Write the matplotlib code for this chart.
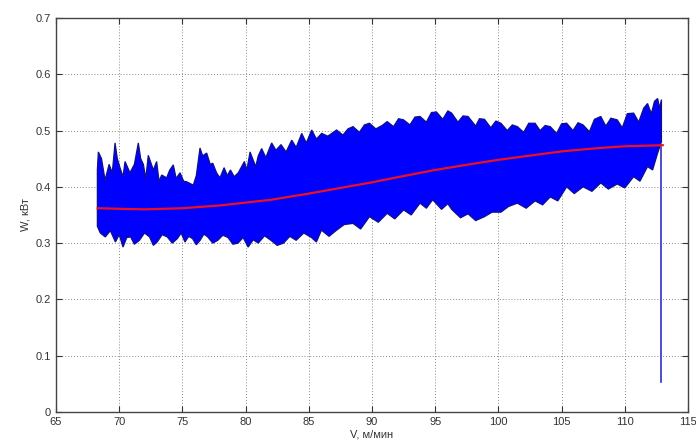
import matplotlib
matplotlib.use("Agg")
import matplotlib.pyplot as plt
import numpy as np

plt.rcParams['font.family'] = ['Liberation Sans', 'DejaVu Sans']

# upper edge of the blue signal band (V, W)
up_v = [68.27, 68.35, 68.6, 68.88, 69.2, 69.45, 69.67, 69.85, 70.06, 70.3, 70.46, 70.85,
        71.2, 71.51, 71.7, 71.91, 72.1, 72.3, 72.7, 72.96, 73.15, 73.36, 73.75, 74.0,
        74.28, 74.5, 74.81, 75.1, 75.34, 75.86, 76.1, 76.39, 76.6, 76.92, 77.2, 77.4,
        77.7, 77.97, 78.3, 78.55, 78.8, 79.1, 79.42, 79.9, 80.1, 80.35, 80.8, 81.0,
        81.27, 81.6, 82.06, 82.4, 82.8, 83.2, 83.65, 84.0, 84.44, 84.8, 85.23, 85.6,
        86.02, 86.5, 87.2, 87.7, 88.1, 88.5, 89.0, 89.4, 89.8, 90.3, 90.8, 91.2,
        91.7, 92.1, 92.5, 93.0, 93.4, 93.8, 94.3, 94.7, 95.1, 95.6, 96.0, 96.3,
        96.8, 97.2, 97.6, 98.2, 98.5, 98.9, 99.4, 99.8, 100.2, 100.7, 101.1, 101.5,
        102.0, 102.4, 102.9, 103.3, 103.7, 104.1, 104.6, 105.0, 105.4, 105.9, 106.3,
        106.7, 107.2, 107.6, 108.1, 108.5, 108.9, 109.4, 109.8, 110.2, 110.7, 111.1,
        111.5, 111.8, 112.1, 112.35, 112.6, 112.75, 112.9]
up_w = [0.43, 0.462, 0.45, 0.412, 0.44, 0.425, 0.478, 0.45, 0.434, 0.418, 0.445, 0.425,
        0.44, 0.478, 0.45, 0.44, 0.415, 0.456, 0.43, 0.445, 0.41, 0.421, 0.416, 0.43,
        0.439, 0.415, 0.425, 0.41, 0.409, 0.403, 0.42, 0.469, 0.455, 0.46, 0.44, 0.442,
        0.425, 0.416, 0.434, 0.42, 0.43, 0.418, 0.425, 0.445, 0.43, 0.462, 0.436, 0.455,
        0.468, 0.452, 0.478, 0.465, 0.475, 0.462, 0.483, 0.47, 0.495, 0.478, 0.501, 0.485,
        0.495, 0.49, 0.501, 0.492, 0.503, 0.507, 0.497, 0.51, 0.513, 0.503, 0.509, 0.516,
        0.507, 0.521, 0.519, 0.51, 0.524, 0.525, 0.515, 0.532, 0.533, 0.52, 0.535, 0.531,
        0.515, 0.526, 0.525, 0.508, 0.521, 0.52, 0.505, 0.517, 0.513, 0.5, 0.51, 0.507,
        0.497, 0.513, 0.513, 0.5, 0.509, 0.507, 0.495, 0.512, 0.513, 0.5, 0.514,
        0.51, 0.498, 0.52, 0.525, 0.508, 0.522, 0.519, 0.505, 0.53, 0.531, 0.515,
        0.54, 0.548, 0.53, 0.552, 0.557, 0.54, 0.555]

# lower edge of the blue signal band
lo_v = [68.27, 68.5, 68.9, 69.3, 69.7, 70.0, 70.3, 70.6, 70.9, 71.2, 71.6, 72.0,
        72.4, 72.7, 73.0, 73.4, 73.8, 74.2, 74.6, 74.9, 75.2, 75.5, 75.8, 76.1,
        76.4, 76.7, 77.0, 77.4, 77.8, 78.2, 78.6, 79.0, 79.4, 79.8, 80.2, 80.6,
        81.0, 81.5, 82.0, 82.5, 83.0, 83.5, 84.0, 84.6, 85.2, 85.6, 86.0, 86.6,
        87.2, 87.8, 88.5, 89.1, 89.8, 90.5, 91.2, 91.8, 92.5, 93.1, 93.8, 94.3,
        94.8, 95.5, 96.0, 96.3, 97.0, 97.6, 98.2, 98.9, 99.5, 100.2, 100.8, 101.5,
        102.2, 102.9, 103.5, 104.1, 104.7, 105.4, 106.0, 106.7, 107.4, 108.1, 108.7,
        109.4, 110.0, 110.7, 111.2, 111.8, 112.2, 112.6, 112.9]
lo_w = [0.33, 0.318, 0.311, 0.322, 0.302, 0.315, 0.293, 0.31, 0.311, 0.298, 0.305, 0.318,
        0.311, 0.296, 0.302, 0.315, 0.311, 0.3, 0.308, 0.318, 0.302, 0.312, 0.308, 0.297,
        0.305, 0.316, 0.311, 0.3, 0.305, 0.314, 0.31, 0.298, 0.30, 0.31, 0.293, 0.306,
        0.30, 0.313, 0.305, 0.296, 0.30, 0.312, 0.305, 0.318, 0.31, 0.302, 0.323, 0.312,
        0.323, 0.333, 0.335, 0.325, 0.347, 0.337, 0.353, 0.343, 0.359, 0.35, 0.371, 0.362,
        0.377, 0.36, 0.37, 0.36, 0.345, 0.352, 0.34, 0.347, 0.355, 0.355, 0.365, 0.371,
        0.362, 0.375, 0.368, 0.382, 0.375, 0.40, 0.388, 0.40, 0.392, 0.407, 0.396,
        0.405, 0.398, 0.418, 0.41, 0.436, 0.43, 0.46, 0.48]

# final drop of the signal
drop_v = [112.9, 112.9]
drop_w = [0.47, 0.054]

# red trend line
fit_v = [68.3, 70, 72, 75, 78, 80, 82, 85, 88, 90, 92, 95, 98, 100, 103, 105, 108, 110, 113]
fit_w = [0.362, 0.361, 0.360, 0.362, 0.367, 0.372, 0.377, 0.388, 0.400, 0.408, 0.417,
         0.430, 0.441, 0.448, 0.457, 0.463, 0.469, 0.472, 0.474]

fig = plt.figure(figsize=(6.96, 4.45), dpi=100)
ax = fig.add_axes([0.0805, 0.0742, 0.908, 0.8854])

ax.fill(np.r_[up_v, lo_v[::-1]], np.r_[up_w, lo_w[::-1]],
        facecolor='#0000ff', edgecolor='#10108a', lw=0.9, zorder=2)
ax.plot(drop_v, drop_w, color='#3030c0', lw=1.2, zorder=2)
ax.plot(fit_v, fit_w, color='#ee1020', lw=1.6, zorder=3)

ax.set_xlim(65, 115)
ax.set_ylim(0, 0.7)
ax.set_xticks(np.arange(65, 116, 5))
ax.set_yticks(np.arange(0, 0.71, 0.1))
ax.set_yticklabels(['0', '0.1', '0.2', '0.3', '0.4', '0.5', '0.6', '0.7'])
ax.grid(True, color='#888888', linestyle=(0, (1, 2)), lw=0.7)
ax.set_axisbelow(True)
ax.tick_params(direction='in', top=True, right=True, labelsize=8,
               colors='#333333', length=4)
for s in ax.spines.values():
    s.set_color('#444444')
    s.set_linewidth(1.0)

ax.set_xlabel('V, м/мин', fontsize=8, color='#333333', labelpad=2)
ax.set_ylabel('W, кВт', fontsize=8, color='#333333', labelpad=4)

fig.savefig('out.png', dpi=100)
